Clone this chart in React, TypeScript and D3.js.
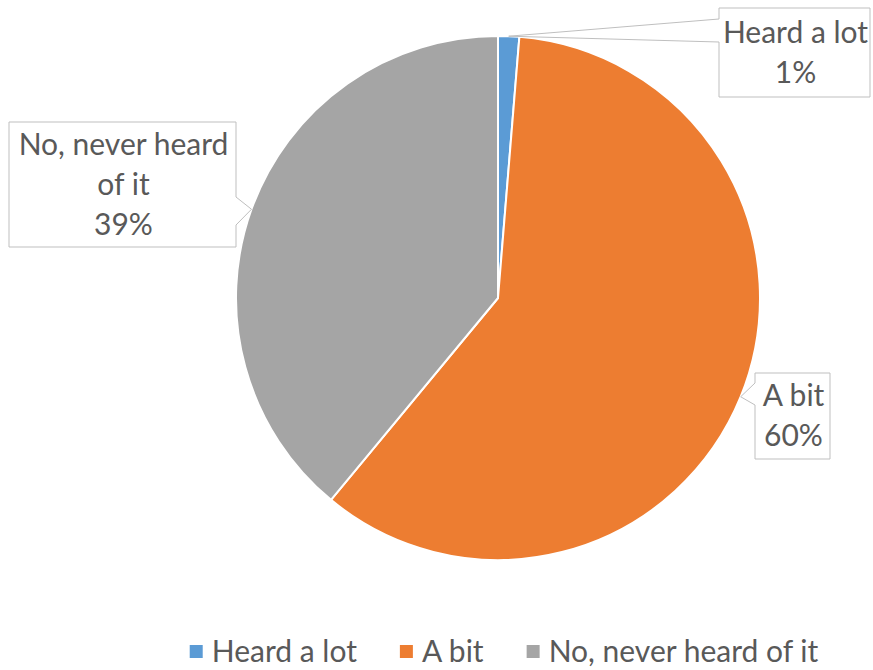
import React, { useEffect, useRef } from "react"
import * as d3 from "d3"

const categories = ["Heard a lot", "A bit", "No, never heard of it"]
const values = [1.3, 59.7, 39]
const percentLabels = ["1%", "60%", "39%"]
const labelLines = [["Heard a lot"], ["A bit"], ["No, never heard", "of it"]]
const colors = ["#5B9BD5", "#ED7D31", "#A5A5A5"]

const W = 873
const H = 670
const FONT = "Lato, 'Open Sans', sans-serif"
const TEXT = "#595959"
const FS = 30

// callout boxes: x, y, w, h and which side the pointer leaves from
const boxes = [
  { x: 719, y: 8, w: 151, h: 89, side: "left", p0: 19, p1: 42 },
  { x: 755, y: 373, w: 75, h: 86, side: "left", p0: 383, p1: 405 },
  { x: 9, y: 122, w: 227, h: 125, side: "right", p0: 197, p1: 225 },
]

const App: React.FC = () => {
  const svgRef = useRef<SVGSVGElement>(null)

  useEffect(() => {
    if (!svgRef.current) return
    const svg = d3.select(svgRef.current)
    svg.selectAll("*").remove()

    const cx = 498
    const cy = 298
    const r = 262

    const pie = d3.pie<number>().sort(null).value((d) => d)
    const arcs = pie(values)
    const arc = d3.arc<d3.PieArcDatum<number>>().innerRadius(0).outerRadius(r)

    const g = svg.append("g").attr("transform", `translate(${cx},${cy})`)
    g.selectAll("path")
      .data(arcs)
      .enter()
      .append("path")
      .attr("d", arc)
      .attr("fill", (_, i) => colors[i])
      .attr("stroke", "white")
      .attr("stroke-width", 2)
      .attr("stroke-linejoin", "round")

    // callouts
    arcs.forEach((a, i) => {
      const mid = (a.startAngle + a.endAngle) / 2
      const tx = cx + r * Math.sin(mid)
      const ty = cy - r * Math.cos(mid)
      const b = boxes[i]
      let d = ""
      if (b.side === "left") {
        d = `M${b.x},${b.y}H${b.x + b.w}V${b.y + b.h}H${b.x}V${b.p1}L${tx},${ty}L${b.x},${b.p0}Z`
      } else {
        const rx = b.x + b.w
        d = `M${b.x},${b.y}H${rx}V${b.p0}L${tx},${ty}L${rx},${b.p1}V${b.y + b.h}H${b.x}Z`
      }
      svg
        .append("path")
        .attr("d", d)
        .attr("fill", "white")
        .attr("stroke", "#BFBFBF")
        .attr("stroke-width", 1)

      const lines = [...labelLines[i], percentLabels[i]]
      const lh = 40
      const firstBase = b.y + b.h / 2 - ((lines.length - 1) * lh) / 2 + 10
      lines.forEach((t, j) => {
        svg
          .append("text")
          .attr("x", b.x + b.w / 2 + 1)
          .attr("y", firstBase + j * lh)
          .attr("text-anchor", "middle")
          .attr("font-family", FONT)
          .attr("font-size", FS)
          .attr("fill", TEXT)
          .text(t)
      })
    })

    // legend
    const lg = svg.append("g")
    const sq = 13
    const gapSq = 9
    const gapItem = 43
    let x = 0
    categories.forEach((c, i) => {
      lg.append("rect")
        .attr("x", x)
        .attr("y", 645)
        .attr("width", sq)
        .attr("height", sq)
        .attr("fill", colors[i])
      const t = lg
        .append("text")
        .attr("x", x + sq + gapSq)
        .attr("y", 662)
        .attr("font-family", FONT)
        .attr("font-size", FS)
        .attr("fill", TEXT)
        .text(c)
      const tw = (t.node() as SVGTextElement).getComputedTextLength()
      x += sq + gapSq + tw + gapItem
    })
    const total = x - gapItem
    lg.attr("transform", `translate(${504 - total / 2},0)`)
  }, [])

  return (
    <div style={{ position: "absolute", left: 0, top: 0 }}>
      <svg ref={svgRef} width={W} height={H} style={{ display: "block" }} />
    </div>
  )
}

export default App
